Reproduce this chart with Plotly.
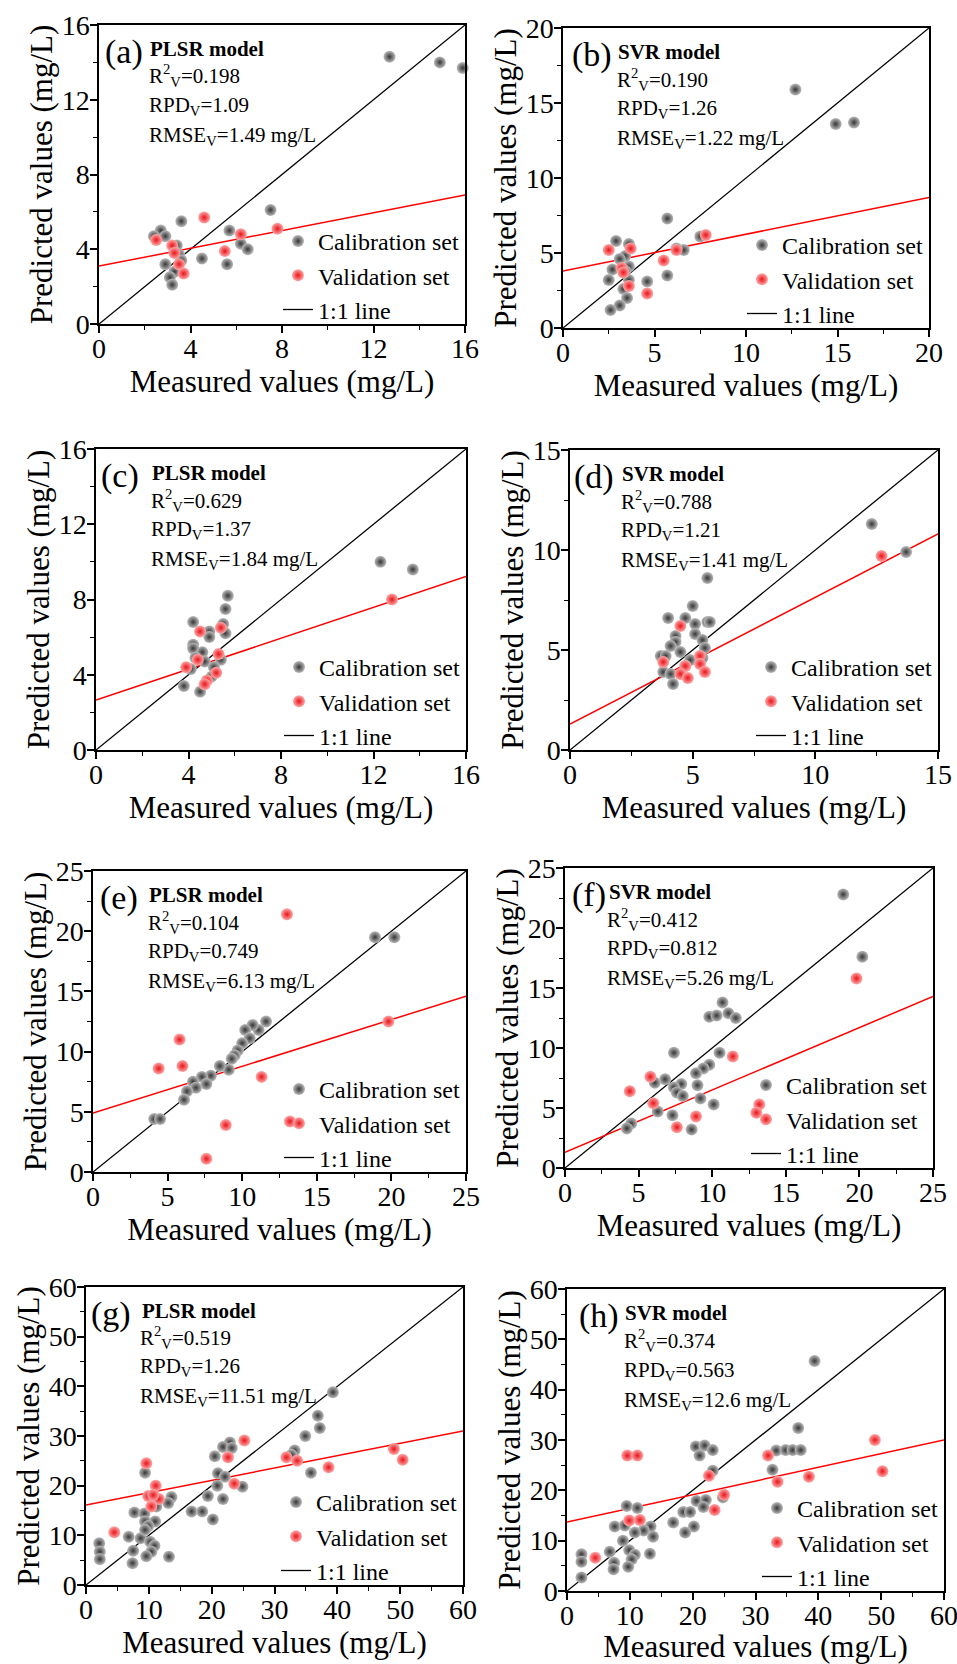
import plotly.graph_objects as go

FONT = "Liberation Serif, Times New Roman, serif"
W, H = 957, 1664

# ---------------- data ----------------
cal_a_x = [12.7, 14.9, 15.9, 7.5, 3.6, 5.7, 2.7, 2.9, 2.4, 6.2, 6.5, 3.4, 3.3, 3.5, 4.5, 2.9, 5.6, 3.3, 3.1, 3.2, 3.6]
cal_a_y = [14.3, 14.0, 13.7, 6.1, 5.5, 5.0, 5.0, 4.7, 4.7, 4.3, 4.0, 4.2, 3.9, 3.7, 3.5, 3.2, 3.2, 2.8, 2.5, 2.1, 3.4]
val_a_x = [4.6, 7.8, 6.2, 2.5, 3.2, 3.3, 5.5, 3.5, 3.7]
val_a_y = [5.7, 5.1, 4.8, 4.5, 4.2, 3.8, 3.9, 3.2, 2.7]
fit_a = [3.1, 6.9]

cal_b_x = [12.7, 14.9, 15.9, 5.7, 7.5, 6.6, 6.2, 2.9, 3.6, 3.4, 3.1, 3.6, 2.7, 3.4, 2.5, 4.6, 5.7, 3.6, 3.3, 3.5, 3.1, 2.6]
cal_b_y = [15.9, 13.6, 13.7, 7.3, 6.1, 5.2, 5.3, 5.8, 5.6, 4.8, 4.6, 4.1, 3.9, 3.8, 3.2, 3.1, 3.5, 3.2, 2.6, 2.0, 1.5, 1.2]
val_b_x = [7.8, 2.5, 3.7, 6.2, 5.5, 3.2, 3.3, 3.6, 4.6]
val_b_y = [6.2, 5.2, 5.3, 5.2, 4.5, 4.0, 3.7, 2.8, 2.3]
fit_b = [3.8, 8.7]

cal_c_x = [12.3, 13.7, 5.7, 5.6, 4.2, 5.5, 5.6, 4.9, 4.9, 4.2, 4.2, 4.6, 5.4, 4.7, 5.1, 4.1, 5.0, 3.8, 4.5, 4.3]
cal_c_y = [10.0, 9.6, 8.2, 7.5, 6.8, 6.7, 6.2, 6.3, 6.0, 5.6, 5.4, 5.2, 4.8, 4.7, 4.4, 4.3, 3.9, 3.4, 3.1, 4.9]
val_c_x = [12.8, 4.5, 5.4, 5.3, 4.4, 3.9, 5.2, 4.8, 4.7]
val_c_y = [8.0, 6.3, 6.5, 5.1, 4.8, 4.4, 4.1, 3.7, 3.5]
fit_c = [2.66, 9.22]

cal_d_x = [12.3, 13.7, 5.6, 5.0, 4.0, 4.7, 5.1, 5.6, 5.7, 5.1, 4.3, 4.3, 5.4, 4.1, 4.5, 5.5, 3.7, 3.9, 4.9, 5.4, 4.7, 3.8, 4.1, 4.2]
cal_d_y = [11.3, 9.9, 8.6, 7.2, 6.6, 6.6, 6.3, 6.4, 6.4, 5.8, 5.7, 5.4, 5.5, 5.2, 4.9, 5.1, 4.7, 4.7, 4.5, 4.6, 4.2, 3.9, 3.8, 3.3]
val_d_x = [12.7, 4.5, 3.8, 5.3, 5.3, 4.7, 4.5, 4.8, 5.5]
val_d_y = [9.7, 6.2, 4.4, 4.7, 4.3, 4.2, 3.8, 3.6, 3.9]
fit_d = [1.3, 10.8]

cal_e_x = [18.9, 20.2, 11.6, 11.1, 10.7, 10.2, 10.5, 10.0, 9.7, 9.5, 9.3, 9.1, 8.5, 7.9, 7.3, 6.7, 7.6, 6.9, 6.3, 6.1, 4.1, 4.5]
cal_e_y = [19.5, 19.5, 12.5, 11.8, 12.2, 11.8, 11.1, 10.7, 10.1, 9.7, 9.4, 8.5, 8.8, 8.0, 7.9, 7.5, 7.3, 7.0, 6.7, 6.0, 4.4, 4.4]
val_e_x = [13.0, 19.8, 5.8, 4.4, 6.0, 11.3, 8.9, 13.2, 7.6]
val_e_y = [21.4, 12.5, 11.0, 8.6, 8.8, 7.9, 3.9, 4.2, 1.1]
fit_e = [4.9, 14.6]

cal_f_x = [18.9, 20.2, 10.7, 9.8, 10.3, 11.1, 11.6, 7.4, 10.5, 9.8, 9.4, 8.9, 6.8, 6.1, 7.9, 7.4, 9.0, 7.6, 8.0, 9.2, 10.1, 6.3, 7.3, 8.6, 4.5, 4.2]
cal_f_y = [22.8, 17.6, 13.8, 12.6, 12.7, 12.9, 12.5, 9.6, 9.6, 8.6, 8.3, 7.9, 7.4, 7.1, 7.0, 6.7, 6.9, 6.3, 6.0, 5.8, 5.3, 4.7, 4.4, 3.2, 3.7, 3.3]
val_f_x = [19.8, 11.4, 5.8, 4.4, 6.0, 13.2, 13.0, 8.9, 7.6]
val_f_y = [15.8, 9.3, 7.6, 6.4, 5.4, 5.3, 4.6, 4.3, 3.4]
fit_f = [1.3, 14.3]

cal_g_x = [39.3, 36.9, 37.2, 34.9, 33.2, 32.7, 35.8, 22.9, 21.8, 23.2, 20.5, 21.0, 22.1, 20.9, 24.9, 19.4, 21.8, 20.2, 16.8, 18.5,
           9.4, 13.6, 13.1, 11.2, 7.7, 9.3, 9.4, 11.0, 9.9, 6.8, 8.7, 10.2, 10.9, 7.5, 10.4, 9.6, 13.2, 7.4, 2.1, 2.2, 2.2, 9.4]
cal_g_y = [38.8, 34.1, 31.6, 30.0, 27.1, 26.2, 22.6, 28.7, 27.8, 27.6, 25.9, 22.5, 21.8, 20.0, 19.8, 17.9, 17.3, 13.2, 14.8, 14.8,
           22.6, 17.7, 16.5, 15.8, 14.6, 14.4, 12.8, 12.8, 11.9, 9.7, 9.4, 8.7, 7.9, 6.9, 6.7, 5.8, 5.7, 4.4, 8.4, 6.7, 5.2, 11.1]
val_g_x = [25.2, 22.6, 31.9, 33.6, 49.0, 50.4, 38.6, 9.6, 11.1, 23.6, 9.9, 11.6, 10.4, 4.5, 10.7]
val_g_y = [29.1, 25.7, 25.7, 25.0, 27.4, 25.2, 23.7, 24.5, 20.0, 20.4, 17.9, 17.3, 15.8, 10.6, 18.1]
fit_g = [16.1, 31.0]

cal_h_x = [39.4, 36.8, 33.3, 34.8, 35.9, 37.2, 20.5, 21.9, 23.2, 21.1, 32.7, 23.2, 24.8, 20.6, 22.1, 21.7, 18.5, 19.6, 16.9, 20.2, 18.8,
           9.5, 11.2, 7.6, 9.2, 13.3, 12.2, 10.8, 13.7, 8.9, 9.9, 6.8, 13.2, 10.8, 10.3, 7.5, 7.4, 9.75, 2.3, 2.3, 2.3]
cal_h_y = [45.7, 32.4, 27.9, 28.0, 28.0, 28.0, 28.7, 28.9, 28.0, 26.9, 24.1, 23.9, 18.6, 17.9, 18.1, 16.7, 15.7, 15.7, 13.6, 12.8, 11.6,
           16.9, 16.5, 12.8, 13.0, 12.8, 12.0, 11.6, 10.8, 10.0, 8.1, 7.8, 7.4, 7.2, 6.3, 5.6, 4.3, 4.8, 7.3, 5.8, 2.7]
val_h_x = [49.0, 50.2, 32.0, 9.6, 11.2, 22.6, 33.5, 38.5, 25.0, 23.5, 9.9, 11.6, 4.5]
val_h_y = [30.0, 23.8, 26.9, 26.9, 26.9, 22.9, 21.7, 22.7, 19.1, 16.1, 14.0, 14.1, 6.6]
fit_h = [13.7, 30.0]

letters = ["a", "b", "c", "d", "e", "f", "g", "h"]
models = ["PLSR model", "SVR model"] * 4
r2_vals = ["0.198", "0.190", "0.629", "0.788", "0.104", "0.412", "0.519", "0.374"]
rpd_vals = ["1.09", "1.26", "1.37", "1.21", "0.749", "0.812", "1.26", "0.563"]
rmse_vals = ["1.49", "1.22", "1.84", "1.41", "6.13", "5.26", "11.51", "12.6"]
axis_max = [16, 20, 16, 15, 25, 25, 60, 60]
major_step = [4, 5, 4, 5, 5, 5, 10, 10]

cal_x = [cal_a_x, cal_b_x, cal_c_x, cal_d_x, cal_e_x, cal_f_x, cal_g_x, cal_h_x]
cal_y = [cal_a_y, cal_b_y, cal_c_y, cal_d_y, cal_e_y, cal_f_y, cal_g_y, cal_h_y]
val_x = [val_a_x, val_b_x, val_c_x, val_d_x, val_e_x, val_f_x, val_g_x, val_h_x]
val_y = [val_a_y, val_b_y, val_c_y, val_d_y, val_e_y, val_f_y, val_g_y, val_h_y]
fits = [fit_a, fit_b, fit_c, fit_d, fit_e, fit_f, fit_g, fit_h]

# ---------------- layout geometry (pixels: left, right, top, bottom) ----------------
boxes = [(99, 465, 25, 324), (563, 929, 28, 328),
         (96, 466, 449, 750), (570, 938, 450, 750),
         (93, 466, 871, 1172), (565, 933, 868, 1168),
         (86, 463, 1287, 1585), (567, 944, 1289, 1591)]
label_dx = [0.012, 0.018, 0.008, 0.005, 0.013, 0.014, 0.007, 0.027]
model_dx = [0.135, 0.145, 0.146, 0.136, 0.145, 0.113, 0.143, 0.149]

CAL_MARKER = dict(size=12, color="#bcbcbc", gradient=dict(type="radial", color="#363636"), line=dict(width=0))
VAL_MARKER = dict(size=12, color="#ffa8a8", gradient=dict(type="radial", color="#e8141a"), line=dict(width=0))

fig = go.Figure()
layout = dict(width=W, height=H, margin=dict(l=0, r=0, t=0, b=0, autoexpand=False),
              paper_bgcolor="white", plot_bgcolor="white",
              font=dict(family=FONT, color="black"), annotations=[])

for i in range(8):
    sfx = "" if i == 0 else str(i + 1)
    xid, yid = "x" + sfx, "y" + sfx
    leg = "legend" + sfx
    l, r, t, b = boxes[i]
    m = axis_max[i]
    step = major_step[i]

    fig.add_trace(go.Scatter(x=[0, m], y=[0, m], mode="lines", name="1:1 line",
                             line=dict(color="black", width=1.3), xaxis=xid, yaxis=yid,
                             legend=leg, legendrank=3, cliponaxis=False))
    fig.add_trace(go.Scatter(x=[0, m], y=fits[i], mode="lines", showlegend=False,
                             line=dict(color="#ff0000", width=1.5), xaxis=xid, yaxis=yid,
                             cliponaxis=False, hoverinfo="skip"))
    fig.add_trace(go.Scatter(x=cal_x[i], y=cal_y[i], mode="markers", name="Calibration set",
                             marker=CAL_MARKER, xaxis=xid, yaxis=yid, legend=leg,
                             legendrank=1, cliponaxis=False))
    fig.add_trace(go.Scatter(x=val_x[i], y=val_y[i], mode="markers", name="Validation set",
                             marker=VAL_MARKER, xaxis=xid, yaxis=yid, legend=leg,
                             legendrank=2, cliponaxis=False))

    common = dict(range=[0, m], tick0=0, dtick=step, showgrid=False, zeroline=False,
                  showline=True, linecolor="black", linewidth=1.5, mirror=True,
                  ticks="outside", ticklen=7, tickwidth=1.5, tickcolor="black",
                  automargin=False, ticklabeloverflow="allow",
                  tickfont=dict(family=FONT, size=28, color="black"),
                  minor=dict(dtick=step / 2, ticks="outside", ticklen=4, tickwidth=1.2, tickcolor="black"))
    layout["xaxis" + sfx] = dict(common, domain=[l / W, r / W], anchor=yid, ticklabelstandoff=-8,
                                 title=dict(text="Measured values (mg/L)", standoff=0,
                                            font=dict(family=FONT, size=31)))
    layout["yaxis" + sfx] = dict(common, domain=[1 - b / H, 1 - t / H], anchor=xid, ticklabelstandoff=-5,
                                 title=dict(text="Predicted values (mg/L)", standoff=0,
                                            font=dict(family=FONT, size=31)))
    layout[leg] = dict(x=(r - 1) / W, xanchor="right", y=1 - (b + 8) / H, yanchor="bottom",
                       bgcolor="rgba(0,0,0,0)", borderwidth=0, itemwidth=30,
                       tracegroupgap=0, traceorder="normal",
                       font=dict(family=FONT, size=24, color="black"))

    xr, yr = xid + " domain", yid + " domain"
    ann = layout["annotations"]
    ann.append(dict(xref=xr, yref=yr, x=label_dx[i], y=0.91, xanchor="left", yanchor="middle",
                    text="(" + letters[i] + ")", showarrow=False, font=dict(family=FONT, size=34)))
    ann.append(dict(xref=xr, yref=yr, x=model_dx[i], y=0.92, xanchor="left", yanchor="middle",
                    text="<b>" + models[i] + "</b>", showarrow=False, font=dict(family=FONT, size=21)))
    ann.append(dict(xref=xr, yref=yr, x=model_dx[i] - 0.004, y=0.83, xanchor="left", yanchor="middle",
                    text="R<sup>2</sup><sub>V</sub>=" + r2_vals[i], showarrow=False, font=dict(family=FONT, size=21)))
    ann.append(dict(xref=xr, yref=yr, x=model_dx[i] - 0.004, y=0.73, xanchor="left", yanchor="middle",
                    text="RPD<sub>V</sub>=" + rpd_vals[i], showarrow=False, font=dict(family=FONT, size=21)))
    ann.append(dict(xref=xr, yref=yr, x=model_dx[i] - 0.004, y=0.63, xanchor="left", yanchor="middle",
                    text="RMSE<sub>V</sub>=" + rmse_vals[i] + " mg/L", showarrow=False, font=dict(family=FONT, size=21)))

fig.update_layout(layout)
fig.write_html("out.html", config={"displayModeBar": False},
               post_script="document.body.style.margin='0';document.body.style.overflow='hidden';")
